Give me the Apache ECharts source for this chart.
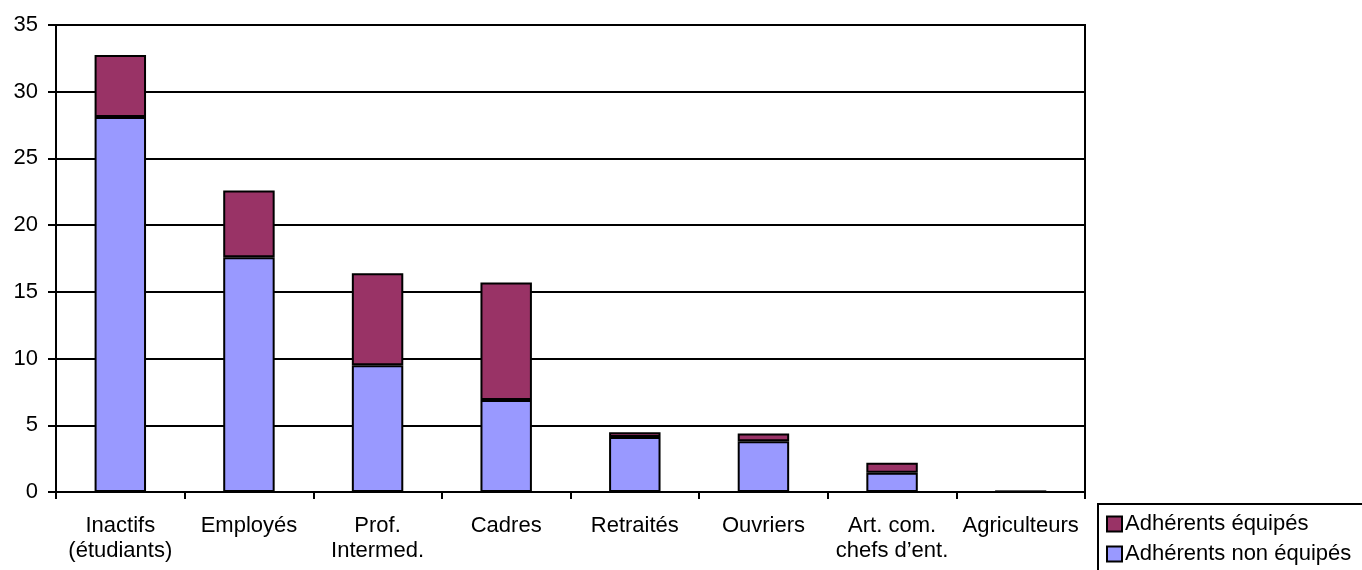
<!DOCTYPE html>
<html><head><meta charset="utf-8">
<script src="https://cdn.jsdelivr.net/npm/echarts@6/dist/echarts.min.js"></script>
<style>html,body{margin:0;padding:0;background:#fff;overflow:hidden}#c{width:1362px;height:570px}</style>
</head><body><div id="c"></div>
<script>
const categories = ['Inactifs\n(étudiants)', 'Employés', 'Prof.\nIntermed.', 'Cadres', 'Retraités', 'Ouvriers', 'Art. com.\nchefs d\u2019ent.', 'Agriculteurs'];
const nonEquipes = [28.1, 17.6, 9.5, 6.9, 4.12, 3.8, 1.45, 0.03];
const equipes = [4.65, 5.0, 6.9, 8.8, 0.35, 0.58, 0.75, 0.02];
const seriesNames = ['Adhérents équipés', 'Adhérents non équipés'];
const yTicks = [0, 5, 10, 15, 20, 25, 30, 35];

const font = 'Liberation Sans, Arial, sans-serif';
const chart = echarts.init(document.getElementById('c'), null, {renderer: 'canvas'});
chart.setOption({
  animation: false,
  textStyle: {fontFamily: font},
  grid: {left: 56, right: 277, top: 25, bottom: 78, show: true, borderColor: '#000', borderWidth: 2, backgroundColor: 'transparent'},
  graphic: [{
    type: 'polyline', z: 0, silent: true,
    shape: {points: [[1420, 504], [1098, 504], [1098, 620]]},
    style: {fill: null, stroke: '#000', lineWidth: 2}
  }],
  legend: {
    orient: 'vertical', left: 1098, top: 504, height: 64,
    data: seriesNames,
    itemWidth: 15, itemHeight: 15, itemGap: 4,
    padding: [7, 0, 12, 8],
    icon: 'rect',
    textStyle: {fontFamily: font, fontSize: 22, lineHeight: 26, color: '#000', padding: [0, 0, 0, -2]}
  },
  xAxis: {
    type: 'category', data: categories,
    axisLine: {lineStyle: {color: '#000', width: 2}},
    axisTick: {show: true, length: 7, lineStyle: {color: '#000', width: 2}},
    axisLabel: {color: '#000', fontSize: 22, fontFamily: font, margin: 21, lineHeight: 25, interval: 0}
  },
  yAxis: {
    type: 'value', min: yTicks[0], max: yTicks[yTicks.length - 1], interval: 5,
    axisLine: {show: true, lineStyle: {color: '#000', width: 2}},
    axisTick: {show: true, length: 8, lineStyle: {color: '#000', width: 2}},
    axisLabel: {color: '#000', fontSize: 22, fontFamily: font, margin: 18},
    splitLine: {show: true, lineStyle: {color: '#000', width: 2}}
  },
  series: [
    {name: seriesNames[1], type: 'bar', stack: 's', data: nonEquipes, barCategoryGap: '60%',
     itemStyle: {color: '#9999FF', borderColor: '#000', borderWidth: 2}},
    {name: seriesNames[0], type: 'bar', stack: 's', data: equipes, barCategoryGap: '60%',
     itemStyle: {color: '#993366', borderColor: '#000', borderWidth: 2}}
  ]
});
</script></body></html>
